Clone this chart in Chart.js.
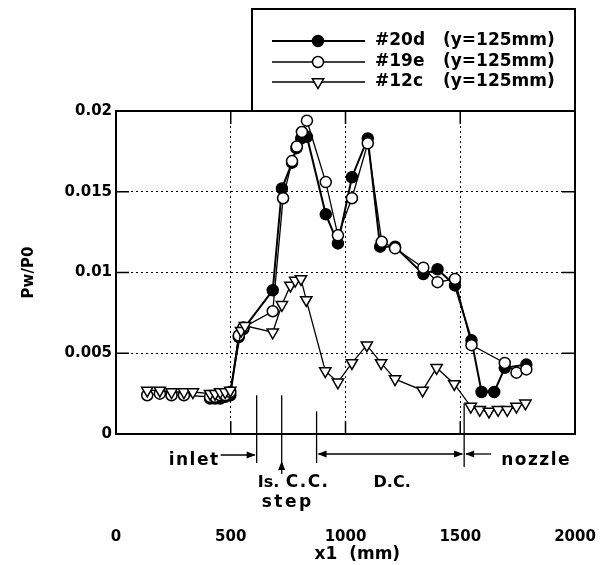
<!DOCTYPE html>
<html>
<head>
<meta charset="utf-8">
<script src="https://cdn.jsdelivr.net/npm/chart.js@4.4.1/dist/chart.umd.min.js"></script>
<style>
  body { margin: 0; background: #fff; }
  canvas { display: block; }
</style>
</head>
<body>
<canvas id="wallPressureChart" width="608" height="565"></canvas>
<script>
// wall pressure Pw/P0 along x1 (mm)
const x20d = [410, 432, 454, 476, 498, 535, 555, 683, 723, 767, 786, 807, 832, 914, 967, 1028, 1097, 1151, 1216, 1339, 1401, 1477, 1549, 1593, 1648, 1694, 1788];
const y20d = [0.0022, 0.0022, 0.0022, 0.0023, 0.0024, 0.0060, 0.0065, 0.0089, 0.0152, 0.0168, 0.0177, 0.0183, 0.0184, 0.0136, 0.0118, 0.0159, 0.0183, 0.0116, 0.0116, 0.0099, 0.0102, 0.0092, 0.0058, 0.0026, 0.0026, 0.0041, 0.0043];

const x19e = [136, 191, 242, 296, 410, 432, 454, 476, 498, 535, 555, 683, 728, 767, 788, 810, 832, 914, 967, 1028, 1097, 1158, 1216, 1339, 1401, 1477, 1549, 1694, 1745, 1788];
const y19e = [0.0024, 0.0025, 0.0024, 0.0024, 0.0023, 0.0023, 0.0024, 0.0024, 0.0026, 0.0061, 0.0066, 0.0076, 0.0146, 0.0169, 0.0178, 0.0187, 0.0194, 0.0156, 0.0123, 0.0146, 0.0180, 0.0119, 0.0115, 0.0103, 0.0094, 0.0096, 0.0055, 0.0044, 0.0038, 0.0040];

const x12c = [136, 191, 242, 296, 335, 410, 432, 454, 476, 498, 545, 562, 683, 723, 760, 781, 806, 829, 912, 967, 1028, 1093, 1155, 1216, 1336, 1397, 1474, 1546, 1585, 1625, 1665, 1705, 1745, 1784];
const y12c = [0.0027, 0.0027, 0.0026, 0.0026, 0.0026, 0.0025, 0.0025, 0.0026, 0.0026, 0.0027, 0.0064, 0.0067, 0.0063, 0.0080, 0.0092, 0.0095, 0.0096, 0.0083, 0.0039, 0.0032, 0.0044, 0.0055, 0.0044, 0.0034, 0.0027, 0.0041, 0.0031, 0.0017, 0.0015, 0.0014, 0.0015, 0.0015, 0.0017, 0.0019];

const seriesNames = ["#20d", "#19e", "#12c"];
const seriesNote = "(y=125mm)";
const xTickLabels = ["0", "500", "1000", "1500", "2000"];
const yTickLabels = ["0", "0.005", "0.01", "0.015", "0.02"];

// section boundaries (mm): inlet end, step, C.C. end, D.C. end
const sectionEdges = [613, 722, 874, 1517];

Chart.defaults.font.family = "'DejaVu Sans'";
Chart.defaults.color = "#000";

const toPoints = (xs, ys) => xs.map((x, i) => ({ x: x, y: ys[i] }));

function arrowHead(ctx, x, y, dir) {
  const len = 9, half = 3.5;
  ctx.beginPath();
  ctx.moveTo(x, y);
  if (dir === "right") { ctx.lineTo(x - len, y - half); ctx.lineTo(x - len, y + half); }
  if (dir === "left") { ctx.lineTo(x + len, y - half); ctx.lineTo(x + len, y + half); }
  if (dir === "up") { ctx.lineTo(x - half, y + len); ctx.lineTo(x + half, y + len); }
  ctx.closePath();
  ctx.fill();
}

function line(ctx, x1, y1, x2, y2) {
  ctx.beginPath();
  ctx.moveTo(x1, y1);
  ctx.lineTo(x2, y2);
  ctx.stroke();
}

const frameAndNotes = {
  id: "frameAndNotes",
  beforeDatasetsDraw(chart) {
    const { ctx, chartArea: a, scales } = chart;
    ctx.save();
    ctx.strokeStyle = "#000";
    ctx.lineWidth = 1.5;
    ctx.beginPath();
    [500, 1000, 1500].forEach(v => {
      const p = scales.x.getPixelForValue(v);
      ctx.moveTo(p, a.bottom); ctx.lineTo(p, a.bottom - 13);
      ctx.moveTo(p, a.top); ctx.lineTo(p, a.top + 13);
    });
    [0.005, 0.01, 0.015].forEach(v => {
      const p = scales.y.getPixelForValue(v);
      ctx.moveTo(a.left, p); ctx.lineTo(a.left + 13, p);
      ctx.moveTo(a.right, p); ctx.lineTo(a.right - 13, p);
    });
    ctx.stroke();
    ctx.lineWidth = 2;
    ctx.strokeRect(a.left, a.top, a.right - a.left, a.bottom - a.top);
    ctx.restore();
  },
  afterDraw(chart) {
    const { ctx, chartArea: a, scales } = chart;
    ctx.save();
    ctx.strokeStyle = "#000";
    ctx.fillStyle = "#000";

    // legend box sitting on the plot
    ctx.lineWidth = 2;
    ctx.strokeRect(a.right - 323, 9, 323, a.top - 9);
    const rows = [41, 62, 82];
    chart.data.datasets.forEach((ds, i) => {
      const y = rows[i];
      ctx.lineWidth = ds.borderWidth;
      ctx.strokeStyle = "#000";
      line(ctx, 272, y, 365, y);
      ctx.fillStyle = ds.pointBackgroundColor;
      ctx.lineWidth = ds.pointBorderWidth;
      Chart.helpers.drawPoint(ctx, {
        pointStyle: ds.pointStyle, rotation: ds.pointRotation || 0,
        radius: ds.pointRadius, borderWidth: ds.pointBorderWidth
      }, 318, y);
      ctx.fillStyle = "#000";
      ctx.font = "bold 17px 'DejaVu Sans'";
      ctx.textBaseline = "middle";
      ctx.textAlign = "left";
      ctx.fillText(seriesNames[i], 375, y);
      ctx.fillText(seriesNote, 443, y);
    });

    // section marks under the plot
    const [e1, e2, e3, e4] = sectionEdges.map(v => scales.x.getPixelForValue(v));
    ctx.lineWidth = 1.3;
    line(ctx, e1, scales.y.getPixelForValue(0.0024), e1, 463);
    line(ctx, e2, scales.y.getPixelForValue(0.0024), e2, 474);
    arrowHead(ctx, e2, 461, "up");
    line(ctx, e3, scales.y.getPixelForValue(0.0014), e3, 463);
    line(ctx, e4, scales.y.getPixelForValue(0.0019), e4, 467);

    line(ctx, e1 - 36, 455, e1 - 2, 455);
    arrowHead(ctx, e1 - 1, 455, "right");
    line(ctx, e3 + 2, 454, e4 - 2, 454);
    arrowHead(ctx, e3 + 1, 454, "left");
    arrowHead(ctx, e4 - 1, 454, "right");
    line(ctx, e4 + 2, 454, e4 + 27, 454);
    arrowHead(ctx, e4 + 1, 454, "left");

    ctx.font = "bold 17px 'DejaVu Sans'";
    ctx.textBaseline = "alphabetic";
    ctx.textAlign = "left";
    ctx.letterSpacing = "1.5px";
    ctx.fillText("inlet", e1 - 88, 465);
    ctx.fillText("nozzle", e4 + 37, 465);
    ctx.fillText("C.C.", e2 + 4, 487);
    ctx.letterSpacing = "0px";
    ctx.font = "bold 16px 'DejaVu Sans'";
    ctx.fillText("Is.", e1 + 1, 487);
    ctx.fillText("D.C.", e3 + 57, 487);
    ctx.font = "bold 17px 'DejaVu Sans'";
    ctx.letterSpacing = "2.5px";
    ctx.fillText("step", e1 + 5, 507);
    ctx.letterSpacing = "0px";
    ctx.restore();
  }
};

const ctx = document.getElementById("wallPressureChart").getContext("2d");

new Chart(ctx, {
  type: "line",
  data: {
    datasets: [
      {
        label: seriesNames[0],
        data: toPoints(x20d, y20d),
        borderColor: "#000",
        borderWidth: 2,
        pointStyle: "circle",
        pointRadius: 5.5,
        pointBorderWidth: 1.5,
        pointBackgroundColor: "#000",
        pointBorderColor: "#000",
        order: 2,
      },
      {
        label: seriesNames[1],
        data: toPoints(x19e, y19e),
        borderColor: "#000",
        borderWidth: 1.3,
        pointStyle: "circle",
        pointRadius: 5.5,
        pointBorderWidth: 1.5,
        pointBackgroundColor: "#fff",
        pointBorderColor: "#000",
        order: 1,
      },
      {
        label: seriesNames[2],
        data: toPoints(x12c, y12c),
        borderColor: "#000",
        borderWidth: 1.3,
        pointStyle: "triangle",
        pointRotation: 180,
        pointRadius: 6.5,
        pointBorderWidth: 1.5,
        pointBackgroundColor: "#fff",
        pointBorderColor: "#000",
        order: 0,
      },
    ],
  },
  options: {
    responsive: false,
    animation: false,
    devicePixelRatio: 1,
    layout: { padding: { top: 111, right: 33, left: 0, bottom: 0 } },
    plugins: { legend: { display: false }, tooltip: { enabled: false } },
    scales: {
      x: {
        type: "linear",
        min: 0,
        max: 2000,
        afterFit: s => { s.height = 131; s.paddingLeft = 0; s.paddingRight = 0; },
        ticks: {
          stepSize: 500,
          padding: 94,
          font: { size: 15, weight: "bold" },
          callback: (v, i) => xTickLabels[i],
        },
        grid: { color: "#000", lineWidth: 1, drawTicks: false },
        border: { display: false, dash: [2, 3] },
        title: {
          display: true,
          text: "    x1  (mm)",
          font: { size: 17, weight: "bold" },
          padding: { top: 0, bottom: 0 },
        },
      },
      y: {
        min: 0,
        max: 0.02,
        afterFit: s => { s.width = 116; },
        ticks: {
          stepSize: 0.005,
          padding: 4,
          font: { size: 15, weight: "bold" },
          callback: (v, i) => yTickLabels[i],
        },
        grid: { color: "#000", lineWidth: 1, drawTicks: false },
        border: { display: false, dash: [2, 3] },
        title: {
          display: true,
          text: "Pw/P0",
          font: { size: 15, weight: "bold" },
          padding: { top: 20, bottom: 0 },
        },
      },
    },
  },
  plugins: [frameAndNotes],
});
</script>
</body>
</html>
